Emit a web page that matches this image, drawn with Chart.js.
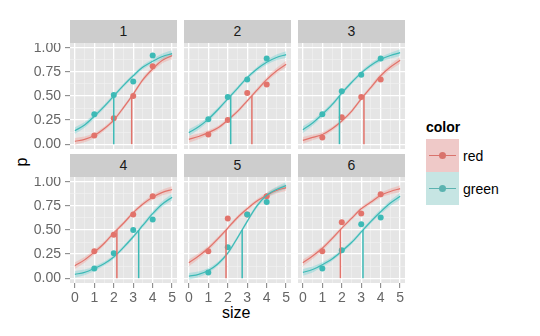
<!DOCTYPE html>
<html>
<head>
<title>p by size, faceted</title>
<script src="https://cdn.jsdelivr.net/npm/chart.js"></script>
<style>
    body { margin: 0; background: #fff; font-family: "Liberation Sans", Arial, sans-serif; }
    #wrap { position: relative; width: 540px; height: 336px; overflow: hidden; background: #fff; }
    canvas { position: absolute; }
    .strip { position: absolute; width: 107px; height: 23px; background: #cdcdcd; color: #1a1a1a;
             font-size: 14px; line-height: 23px; text-align: center; }
    .lbl { position: absolute; color: #000; white-space: nowrap; }
    .key { position: absolute; left: 426px; width: 33px; height: 33px; }
    .kline { position: absolute; left: 3px; right: 3px; top: 16px; height: 1px; }
    .kdot { position: absolute; left: 13px; top: 13px; width: 7px; height: 7px; border-radius: 50%; }
</style>
</head>
<body>
<div id="wrap">
    <div class="lbl" style="left:18px; top:153px; font-size:16px; line-height:18px; transform:rotate(-90deg);">p</div>
    <div class="lbl" style="left:222px; top:304px; font-size:16px;">size</div>

    <div class="lbl" style="left:426px; top:118px; font-size:14px; font-weight:bold; line-height:18px;">color</div>
    <div class="key" style="top:139px; background:#efc9c8;">
        <div class="kline" style="background:#d9736c;"></div><div class="kdot" style="background:#d9736c;"></div>
    </div>
    <div class="key" style="top:172px; background:#c6e5e3;">
        <div class="kline" style="background:#5bb3b0;"></div><div class="kdot" style="background:#5bb3b0;"></div>
    </div>
    <div class="lbl" style="left:463px; top:147px; font-size:14px; line-height:18px;">red</div>
    <div class="lbl" style="left:463px; top:180px; font-size:14px; line-height:18px;">green</div>
</div>

<script>
    // facet labels
    const panels = ['1', '2', '3', '4', '5', '6'];

    // x positions
    const xFine = [0, 0.5, 1, 1.5, 2, 2.5, 3, 3.5, 4, 4.5, 5];
    const xPoints = [1, 2, 3, 4];

    // observed proportions (one row per panel)
    const redPoints = [
        [0.09, 0.27, 0.50, 0.81],
        [0.10, 0.25, 0.53, 0.62],
        [0.07, 0.28, 0.49, 0.67],
        [0.28, 0.45, 0.66, 0.85],
        [0.28, 0.62, 0.66, 0.85],
        [0.28, 0.58, 0.67, 0.87]
    ];
    const greenPoints = [
        [0.31, 0.51, 0.65, 0.92],
        [0.26, 0.49, 0.67, 0.89],
        [0.31, 0.55, 0.72, 0.89],
        [0.10, 0.26, 0.50, 0.61],
        [0.06, 0.32, 0.66, 0.79],
        [0.10, 0.29, 0.56, 0.63]
    ];

    // fitted curves read at xFine
    const redCurve = [
        [0.03, 0.05, 0.09, 0.16, 0.25, 0.38, 0.52, 0.67, 0.78, 0.87, 0.92],
        [0.05, 0.08, 0.12, 0.17, 0.25, 0.34, 0.45, 0.56, 0.67, 0.76, 0.83],
        [0.04, 0.07, 0.10, 0.16, 0.24, 0.34, 0.47, 0.59, 0.71, 0.80, 0.87],
        [0.13, 0.19, 0.27, 0.36, 0.47, 0.57, 0.68, 0.77, 0.84, 0.89, 0.92],
        [0.16, 0.23, 0.31, 0.41, 0.52, 0.63, 0.72, 0.80, 0.86, 0.91, 0.94],
        [0.16, 0.23, 0.31, 0.41, 0.52, 0.62, 0.72, 0.79, 0.86, 0.90, 0.93]
    ];
    const greenCurve = [
        [0.14, 0.20, 0.29, 0.39, 0.50, 0.61, 0.71, 0.80, 0.86, 0.91, 0.94],
        [0.12, 0.18, 0.26, 0.36, 0.47, 0.58, 0.69, 0.78, 0.85, 0.90, 0.93],
        [0.15, 0.22, 0.31, 0.41, 0.53, 0.64, 0.74, 0.82, 0.88, 0.92, 0.95],
        [0.04, 0.06, 0.10, 0.15, 0.22, 0.32, 0.43, 0.55, 0.67, 0.77, 0.84],
        [0.02, 0.04, 0.08, 0.15, 0.26, 0.42, 0.59, 0.75, 0.86, 0.92, 0.96],
        [0.06, 0.09, 0.14, 0.20, 0.28, 0.37, 0.48, 0.59, 0.69, 0.78, 0.85]
    ];
    // half width of the confidence band at xFine
    const bandHalf = [0.035, 0.03, 0.025, 0.022, 0.02, 0.02, 0.02, 0.022, 0.025, 0.03, 0.035];

    // size where the curve crosses 0.5
    const redMid = [2.92, 3.24, 3.14, 2.16, 1.91, 1.93];
    const greenMid = [2.00, 2.15, 1.88, 3.28, 2.74, 3.09];

    // ticks (major + minor grid)
    const xTicks = [0, 0.5, 1, 1.5, 2, 2.5, 3, 3.5, 4, 4.5, 5];
    const yTicks = [0, 0.125, 0.25, 0.375, 0.5, 0.625, 0.75, 0.875, 1];

    const RED = '#e2736b', GREEN = '#3dbab6';
    const RED_BAND = 'rgba(248,118,109,0.25)', GREEN_BAND = 'rgba(0,191,196,0.2)';
    const FONT = '"Liberation Sans", Arial, sans-serif';

    const PW = 107, PH = 106, AX_L = 52, AX_B = 30;
    const colLeft = [70, 184, 298], rowTop = [43, 177];

    const isMajorX = v => Math.abs(v - Math.round(v)) < 1e-6;
    const isMajorY = v => Math.abs(v * 4 - Math.round(v * 4)) < 1e-6;

    const panelBg = {
        id: 'panelBg',
        beforeDraw(chart) {
            const a = chart.chartArea, c = chart.ctx;
            c.save();
            c.fillStyle = '#e5e5e5';
            c.fillRect(a.left, a.top, a.right - a.left, a.bottom - a.top);
            c.restore();
        }
    };

    const wrap = document.getElementById('wrap');

    panels.forEach((name, i) => {
        const col = i % 3, row = Math.floor(i / 3);
        const left = col === 0, bottom = row === 1;
        const axL = left ? AX_L : 0, axB = bottom ? AX_B : 0;

        const strip = document.createElement('div');
        strip.className = 'strip';
        strip.style.left = colLeft[col] + 'px';
        strip.style.top = (rowTop[row] - 23) + 'px';
        strip.textContent = name;
        wrap.appendChild(strip);

        const cv = document.createElement('canvas');
        cv.width = PW + axL;
        cv.height = PH + axB;
        cv.style.left = (colLeft[col] - axL) + 'px';
        cv.style.top = rowTop[row] + 'px';
        wrap.appendChild(cv);

        const pts = (xs, ys) => xs.map((x, k) => ({ x: x, y: ys[k] }));
        const band = (curve, s) => xFine.map((x, k) => ({ x: x, y: curve[k] + s * bandHalf[k] }));
        const curveOpts = { pointRadius: 0, cubicInterpolationMode: 'monotone', fill: false };

        new Chart(cv.getContext('2d'), {
            type: 'line',
            data: {
                datasets: [
                    { ...curveOpts, data: band(redCurve[i], 1), fill: '+1', backgroundColor: RED_BAND, borderWidth: 0, order: 8 },
                    { ...curveOpts, data: band(redCurve[i], -1), borderWidth: 0, order: 8 },
                    { ...curveOpts, data: band(greenCurve[i], 1), fill: '+1', backgroundColor: GREEN_BAND, borderWidth: 0, order: 7 },
                    { ...curveOpts, data: band(greenCurve[i], -1), borderWidth: 0, order: 7 },
                    { data: pts(xPoints, redPoints[i]), showLine: false, pointRadius: 3, pointBorderWidth: 0, backgroundColor: RED, order: 6 },
                    { data: pts(xPoints, greenPoints[i]), showLine: false, pointRadius: 3, pointBorderWidth: 0, backgroundColor: GREEN, order: 5 },
                    { ...curveOpts, data: pts(xFine, redCurve[i]), borderColor: RED, borderWidth: 1.2, order: 4 },
                    { ...curveOpts, data: pts(xFine, greenCurve[i]), borderColor: GREEN, borderWidth: 1.2, order: 3 },
                    { data: [{ x: redMid[i], y: 0 }, { x: redMid[i], y: 0.5 }], borderColor: RED, borderWidth: 1.5, pointRadius: 0, order: 2 },
                    { data: [{ x: greenMid[i], y: 0 }, { x: greenMid[i], y: 0.5 }], borderColor: GREEN, borderWidth: 1.5, pointRadius: 0, order: 1 }
                ]
            },
            options: {
                responsive: false,
                animation: false,
                devicePixelRatio: 1,
                layout: { padding: 0, autoPadding: false },
                plugins: { legend: { display: false }, tooltip: { enabled: false } },
                scales: {
                    x: {
                        type: 'linear', min: -0.25, max: 5.25,
                        afterBuildTicks: s => { s.ticks = xTicks.map(v => ({ value: v })); },
                        afterFit: s => {
                            s.height = axB;
                            s.paddingLeft = 0; s.paddingRight = 0; s.paddingTop = 0; s.paddingBottom = 0;
                        },
                        border: { display: false },
                        grid: {
                            color: c => isMajorX(c.tick.value) ? '#ffffff' : '#f2f2f2',
                            lineWidth: c => isMajorX(c.tick.value) ? 1.3 : 0.6,
                            drawTicks: bottom, tickLength: 5, tickWidth: 1,
                            tickColor: c => isMajorX(c.tick.value) ? '#7f7f7f' : 'rgba(0,0,0,0)'
                        },
                        ticks: {
                            display: bottom, autoSkip: false, maxRotation: 0, padding: 2,
                            color: '#666', font: { size: 14, family: FONT },
                            callback: v => isMajorX(v) ? String(Math.round(v)) : ''
                        }
                    },
                    y: {
                        type: 'linear', min: -0.05, max: 1.05,
                        afterBuildTicks: s => { s.ticks = yTicks.map(v => ({ value: v })); },
                        afterFit: s => {
                            s.width = axL;
                            s.paddingLeft = 0; s.paddingRight = 0; s.paddingTop = 0; s.paddingBottom = 0;
                        },
                        border: { display: false },
                        grid: {
                            color: c => isMajorY(c.tick.value) ? '#ffffff' : '#f2f2f2',
                            lineWidth: c => isMajorY(c.tick.value) ? 1.3 : 0.6,
                            drawTicks: left, tickLength: 5, tickWidth: 1,
                            tickColor: c => isMajorY(c.tick.value) ? '#7f7f7f' : 'rgba(0,0,0,0)'
                        },
                        ticks: {
                            display: left, autoSkip: false, padding: 4,
                            color: '#666', font: { size: 14, family: FONT },
                            callback: v => isMajorY(v) ? v.toFixed(2) : ''
                        }
                    }
                }
            },
            plugins: [panelBg]
        });
    });
</script>
</body>
</html>
